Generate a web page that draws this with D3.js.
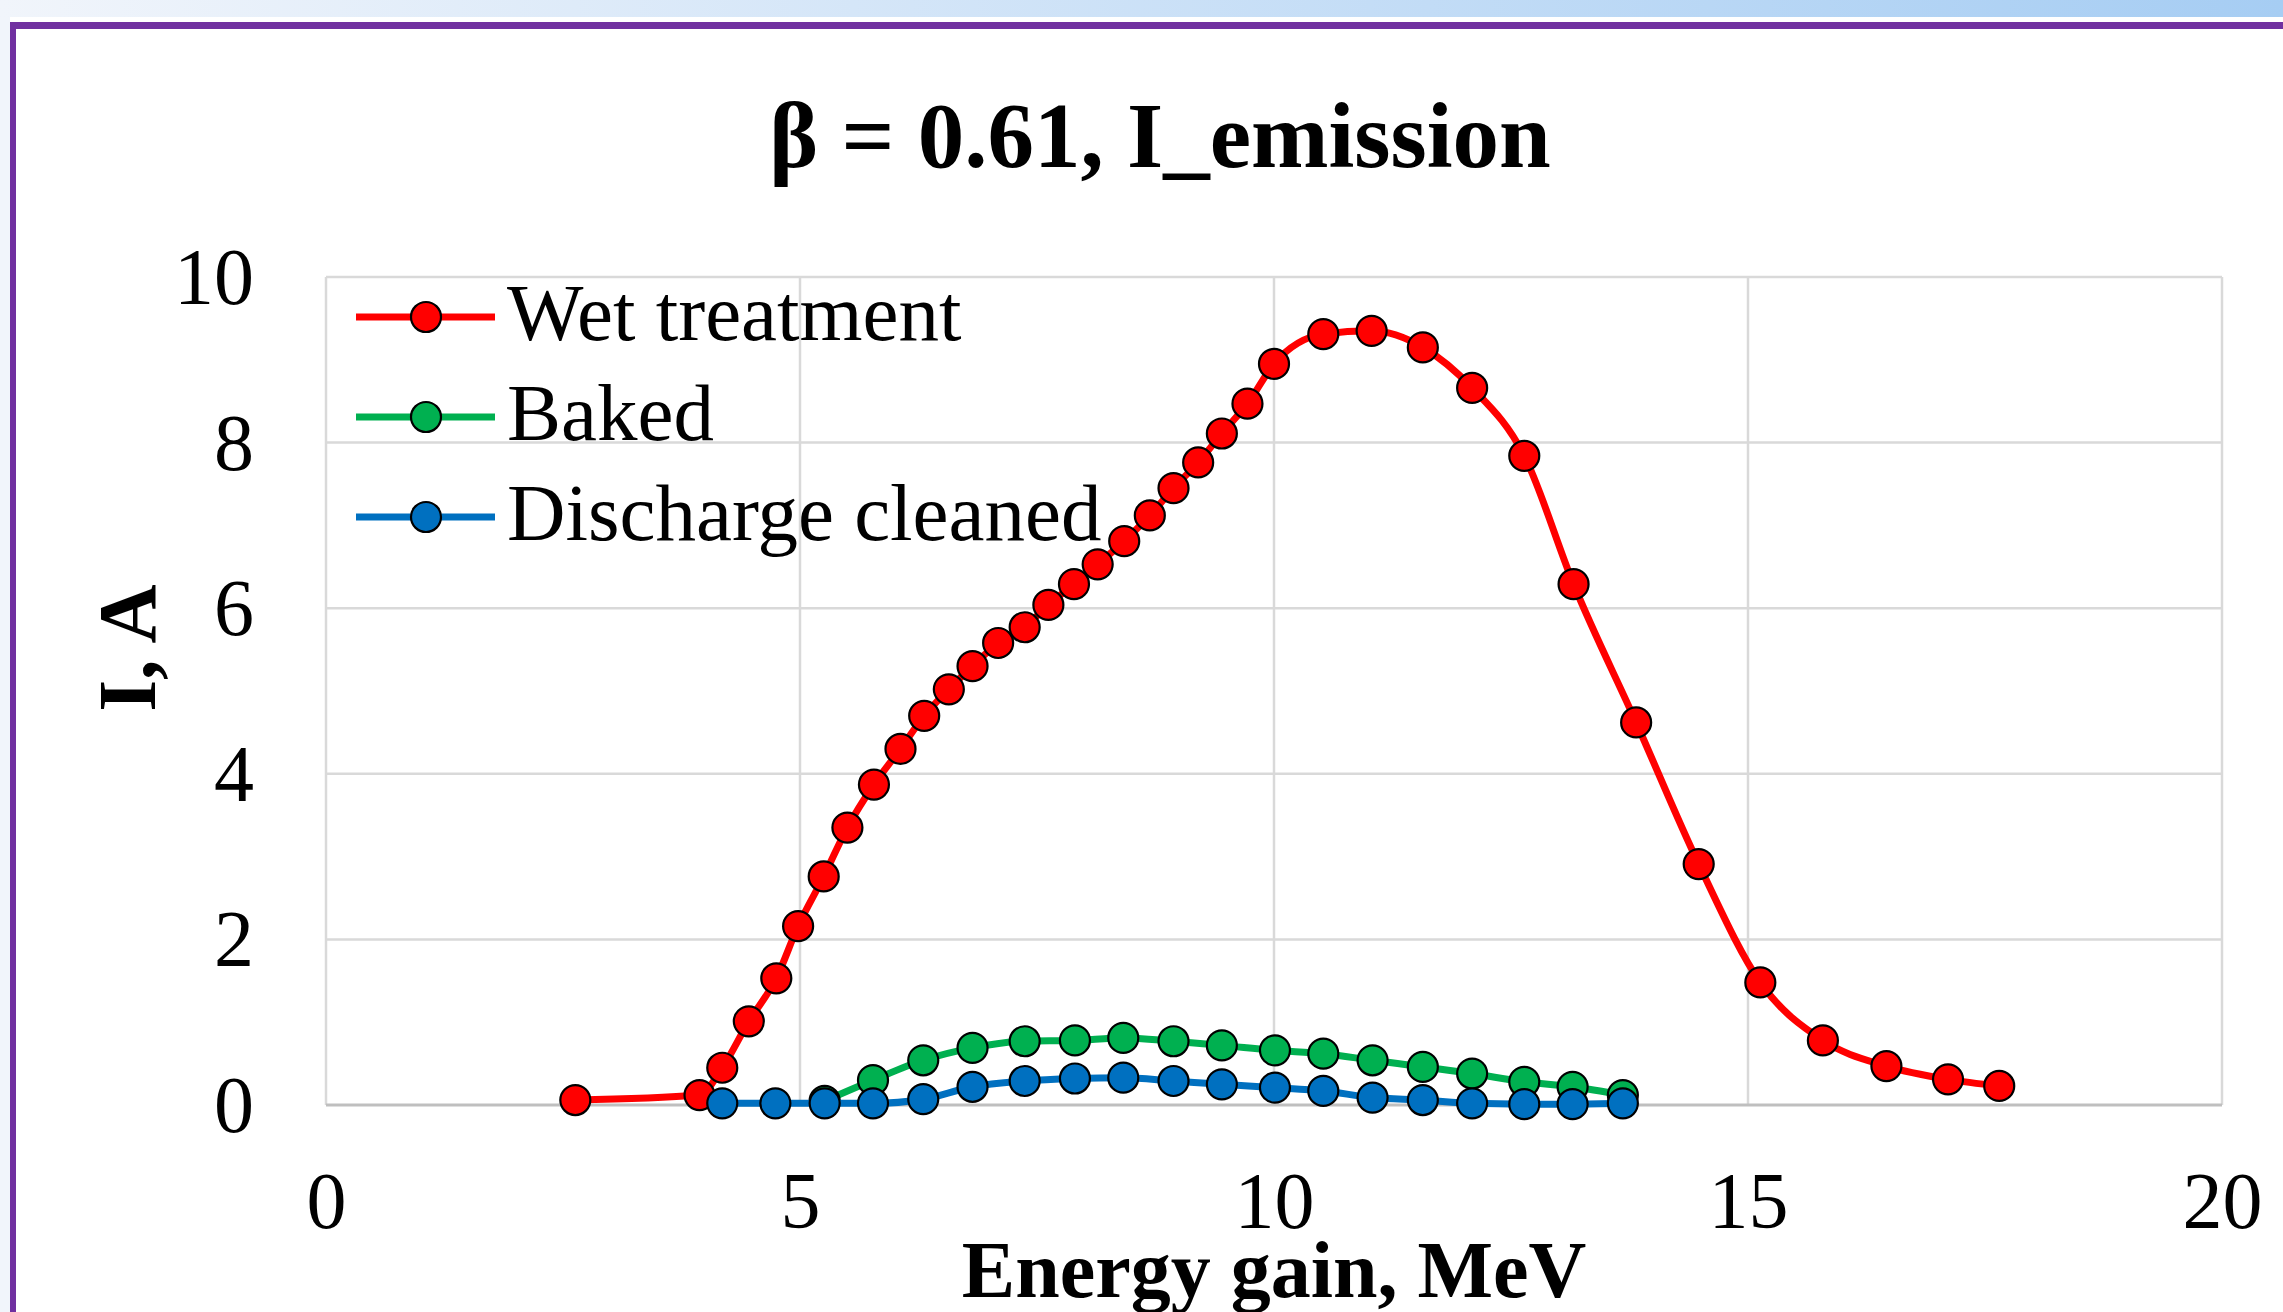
<!DOCTYPE html>
<html>
<head>
<meta charset="utf-8">
<script src="https://cdn.jsdelivr.net/npm/d3@7/dist/d3.min.js"></script>
<style>
    body { margin: 0; background: #ffffff; overflow: hidden; }
    text { font-family: "Liberation Serif", "Times New Roman", serif; fill: #000; }
</style>
</head>
<body>
<div id="chart"></div>
<script>
// Data
const seriesNames = ["Wet treatment", "Baked", "Discharge cleaned"];
const seriesColors = ["#ff0000", "#00b050", "#0070c0"];

const energyWet = [2.63, 3.94, 4.18, 4.46, 4.75, 4.98, 5.25, 5.50, 5.78, 6.06, 6.31, 6.57, 6.82,
    7.09, 7.37, 7.62, 7.89, 8.14, 8.42, 8.69, 8.94, 9.20, 9.45, 9.72, 10.00, 10.52, 11.03,
    11.57, 12.09, 12.64, 13.16, 13.82, 14.48, 15.13, 15.79, 16.46, 17.11, 17.65];
const currentWet = [0.06, 0.12, 0.45, 1.01, 1.53, 2.16, 2.76, 3.35, 3.87, 4.30, 4.70, 5.02, 5.30,
    5.58, 5.77, 6.04, 6.29, 6.53, 6.81, 7.12, 7.45, 7.76, 8.11, 8.47, 8.95, 9.31, 9.35,
    9.15, 8.66, 7.84, 6.29, 4.62, 2.91, 1.48, 0.78, 0.47, 0.31, 0.23];

const energyBaked = [5.26, 5.77, 6.30, 6.82, 7.37, 7.90, 8.41, 8.94, 9.45, 10.01, 10.52,
    11.04, 11.57, 12.09, 12.64, 13.15, 13.68];
const currentBaked = [0.05, 0.30, 0.54, 0.69, 0.77, 0.78, 0.81, 0.77, 0.72, 0.66, 0.62,
    0.54, 0.46, 0.38, 0.28, 0.22, 0.12];

const energyDischarge = [4.18, 4.74, 5.26, 5.77, 6.30, 6.82, 7.37, 7.90, 8.41, 8.94, 9.45,
    10.01, 10.52, 11.04, 11.57, 12.09, 12.64, 13.15, 13.68];
const currentDischarge = [0.02, 0.02, 0.02, 0.02, 0.07, 0.22, 0.29, 0.32, 0.33, 0.29, 0.25,
    0.21, 0.17, 0.09, 0.06, 0.02, 0.01, 0.01, 0.02];

const xTicks = [0, 5, 10, 15, 20];
const yTicks = [0, 2, 4, 6, 8, 10];

class EmissionChart {
    constructor(parentElement) {
        this.parentElement = parentElement;
        this.initVis();
    }

    initVis() {
        let vis = this;

        vis.width = 2283;
        vis.height = 1312;
        vis.plot = {left: 326, right: 2222, top: 277, bottom: 1105};

        vis.svg = d3.select("#" + vis.parentElement).append("svg")
            .attr("width", vis.width)
            .attr("height", vis.height);

        // slide background + frame
        let defs = vis.svg.append("defs");
        let grad = defs.append("linearGradient").attr("id", "band");
        grad.append("stop").attr("offset", "0%").attr("stop-color", "#f1f5fb");
        grad.append("stop").attr("offset", "100%").attr("stop-color", "#a6cdf3");

        vis.svg.append("rect").attr("width", vis.width).attr("height", vis.height).attr("fill", "#ffffff");
        vis.svg.append("rect").attr("width", vis.width).attr("height", 17).attr("fill", "url(#band)");
        vis.svg.append("rect").attr("y", 17).attr("width", 10).attr("height", vis.height).attr("fill", "#f1f5fb");
        vis.svg.append("rect").attr("x", 10).attr("y", 22).attr("width", vis.width).attr("height", 7).attr("fill", "#7030a0");
        vis.svg.append("rect").attr("x", 10).attr("y", 22).attr("width", 6).attr("height", vis.height).attr("fill", "#7030a0");

        vis.x = d3.scaleLinear().domain([0, 20]).range([vis.plot.left, vis.plot.right]);
        vis.y = d3.scaleLinear().domain([0, 10]).range([vis.plot.bottom, vis.plot.top]);

        vis.wrangleData();
    }

    wrangleData() {
        let vis = this;
        let pairs = (xs, ys) => xs.map((e, i) => ({x: e, y: ys[i]}));
        vis.series = [
            {name: seriesNames[0], color: seriesColors[0], values: pairs(energyWet, currentWet)},
            {name: seriesNames[1], color: seriesColors[1], values: pairs(energyBaked, currentBaked)},
            {name: seriesNames[2], color: seriesColors[2], values: pairs(energyDischarge, currentDischarge)}
        ];
        vis.updateVis();
    }

    updateVis() {
        let vis = this;

        // Gridlines
        let grid = vis.svg.append("g").attr("stroke", "#d9d9d9").attr("stroke-width", 2.5);
        grid.selectAll(".gx").data(xTicks).join("line")
            .attr("x1", d => vis.x(d)).attr("x2", d => vis.x(d))
            .attr("y1", vis.plot.top).attr("y2", vis.plot.bottom);
        grid.selectAll(".gy").data(yTicks.slice(1)).join("line")
            .attr("x1", vis.plot.left).attr("x2", vis.plot.right)
            .attr("y1", d => vis.y(d)).attr("y2", d => vis.y(d));
        vis.svg.append("line")
            .attr("x1", vis.plot.left).attr("x2", vis.plot.right)
            .attr("y1", vis.y(0)).attr("y2", vis.y(0))
            .attr("stroke", "#bfbfbf").attr("stroke-width", 3);

        // Axes (labels only)
        let xAxis = vis.svg.append("g")
            .attr("transform", `translate(0, ${vis.plot.bottom + 123})`)
            .call(d3.axisBottom(vis.x).tickValues(xTicks).tickSize(0).tickPadding(0));
        xAxis.select(".domain").remove();
        xAxis.selectAll("text")
            .attr("dy", 0).attr("y", 0)
            .style("font-size", "80px")
            .style("font-family", "'Liberation Serif', serif");

        let yAxis = vis.svg.append("g")
            .attr("transform", `translate(${vis.plot.left - 72}, 0)`)
            .call(d3.axisLeft(vis.y).tickValues(yTicks).tickSize(0).tickPadding(0));
        yAxis.select(".domain").remove();
        yAxis.selectAll("text")
            .attr("dy", "0.33em")
            .style("font-size", "80px")
            .style("font-family", "'Liberation Serif', serif");

        // Lines + markers
        let line = d3.line()
            .x(d => vis.x(d.x))
            .y(d => vis.y(d.y))
            .curve(d3.curveMonotoneX);

        vis.series.forEach(s => {
            let g = vis.svg.append("g");
            g.append("path")
                .datum(s.values)
                .attr("d", line)
                .attr("fill", "none")
                .attr("stroke", s.color)
                .attr("stroke-width", 7)
                .attr("stroke-linejoin", "round");
            g.selectAll("circle").data(s.values).join("circle")
                .attr("cx", d => vis.x(d.x))
                .attr("cy", d => vis.y(d.y))
                .attr("r", 15)
                .attr("fill", s.color)
                .attr("stroke", "#000")
                .attr("stroke-width", 2.2);
        });

        // Legend
        let legend = vis.svg.append("g").selectAll("g")
            .data(vis.series)
            .join("g")
            .attr("transform", (d, i) => `translate(0, ${317 + i * 100})`);
        legend.append("line")
            .attr("x1", 356).attr("x2", 495)
            .attr("stroke", d => d.color).attr("stroke-width", 7);
        legend.append("circle")
            .attr("cx", 426).attr("r", 15)
            .attr("fill", d => d.color).attr("stroke", "#000").attr("stroke-width", 2.2);
        legend.append("text")
            .attr("x", 507).attr("y", 23)
            .style("font-size", "81px")
            .text(d => d.name);

        // Titles
        vis.svg.append("text")
            .attr("x", 1160).attr("y", 167)
            .attr("text-anchor", "middle")
            .style("font-size", "93px").style("font-weight", "bold")
            .text("β = 0.61, I_emission");

        vis.svg.append("text")
            .attr("transform", "translate(155, 648) rotate(-90)")
            .attr("text-anchor", "middle")
            .style("font-size", "82px").style("font-weight", "bold")
            .text("I, A");

        vis.svg.append("text")
            .attr("x", (vis.plot.left + vis.plot.right) / 2).attr("y", 1297)
            .attr("text-anchor", "middle")
            .style("font-size", "80px").style("font-weight", "bold")
            .text("Energy gain, MeV");
    }
}

new EmissionChart("chart");
</script>
</body>
</html>
